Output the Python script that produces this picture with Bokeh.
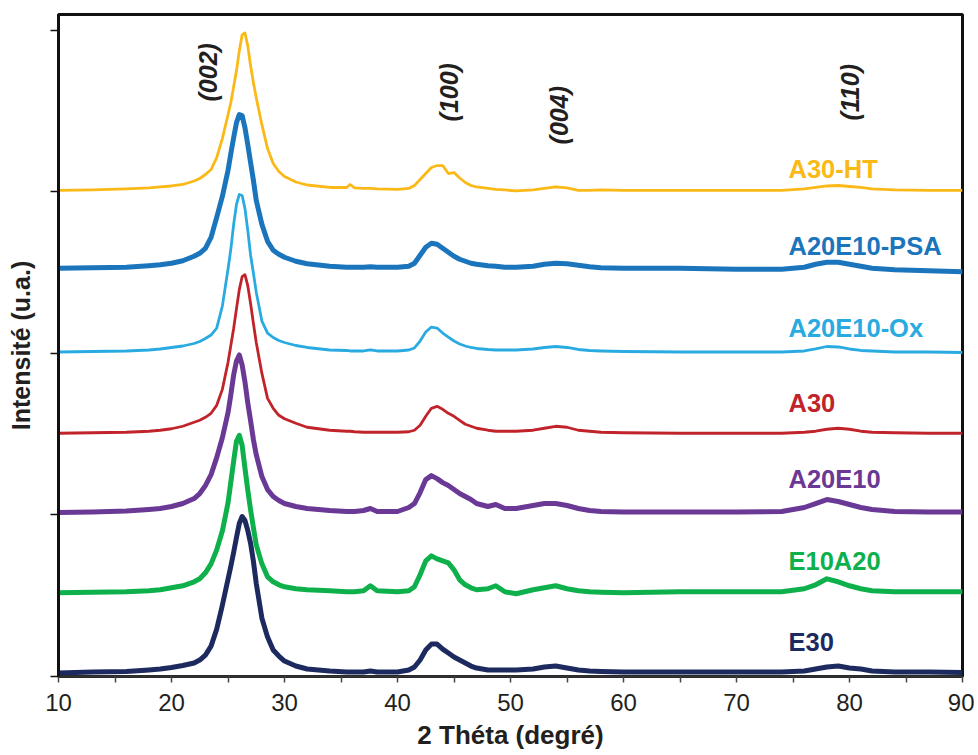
import numpy as np
from bokeh.plotting import figure
from bokeh.models import Range1d, FixedTicker, ColumnDataSource, CustomJSTickFormatter
from bokeh.core.properties import value
from bokeh.embed import file_html
from bokeh.resources import INLINE

# ---------------- data ----------------
# 2-theta grid (degrees)
two_theta = [10, 13, 16, 18, 19, 20, 21, 22, 22.5, 23, 23.5, 24, 24.5, 25, 25.25, 25.5, 25.75, 26,
             26.25, 26.5, 26.75, 27, 27.25, 27.5, 28, 28.5, 29, 29.5, 30, 31, 32,
             34, 35.5, 35.8, 36.2, 37, 37.6, 38.2, 40,
             41, 41.5, 42, 42.5, 43, 43.5, 44, 44.5, 45, 45.5, 46, 46.5, 47, 48, 48.7, 49.5, 50.5,
             52, 53, 54, 55, 56, 57, 58, 60, 65, 70,
             74, 76, 77, 78, 79, 80, 81, 82, 84, 87, 90]

series_names = ["E30", "E10A20", "A20E10", "A30", "A20E10-Ox", "A20E10-PSA", "A30-HT"]
series_colors = ["#1c2a5f", "#0db04b", "#6a3895", "#c1232b", "#29abe2", "#1b75bc", "#fbb917"]
series_widths = [5, 5, 5, 2.8, 2.8, 5, 2.8]
# vertical stacking offsets (u.a.)
stack_offsets = [3.5, 84, 164.5, 244, 325.5, 409.5, 487.5]

e30 = [0, 1, 1.5, 3, 4, 5.5, 7.5, 10, 13, 18, 27, 44, 68, 94, 107, 121, 136, 150, 157, 153, 143, 130, 112, 90, 55, 36, 23, 17, 12, 7, 4,
       2, 1, 1, 1, 1, 2, 1, 1,
       3, 6, 13, 23, 29, 29, 24, 20, 16, 13, 10, 7, 5, 3, 3, 3, 3,
       4, 6, 7, 5, 3, 2, 1.5, 1, 1, 1,
       1, 2, 4, 6, 7, 5, 4, 2, 1, 1, 0.5]
e10a20 = [0, 0.5, 1, 2, 3, 5, 7, 11, 14, 20, 29, 43, 62, 90, 111, 132, 152, 158, 148, 125, 103, 83, 65, 48, 29, 16, 11, 8, 6, 4, 3,
          2, 1, 1, 1, 2, 7, 2, 1,
          2, 6, 18, 32, 37, 34, 32, 30, 23, 13, 8, 5, 3, 4, 7, 1, -1,
          3, 5, 7, 4, 2, 1, 0.5, 0, 1, 1,
          1, 4, 8, 14, 11, 7, 4, 2, 1, 1, 1]
a20e10 = [0, 0.5, 1.5, 3, 4, 6, 9, 14, 19, 27, 38, 55, 75, 100, 118, 138, 152, 158, 148, 131, 110, 92, 73, 58, 36, 23, 16, 12, 9, 6, 4,
          2, 1, 1, 1, 2, 4, 1, 1,
          5, 9, 20, 33, 37, 34, 30, 27, 23, 19, 16, 13, 9, 6, 8, 4, 4,
          7, 9, 9, 7, 4, 2, 1, 0.5, 0.5, 0.5,
          1, 5, 9, 13, 11, 8, 5, 3, 1, 0.5, 0.5]
a30 = [0, 0.5, 1, 2, 3, 4.5, 7, 11, 13, 16, 20, 28, 44, 71, 88, 105, 125, 144, 157, 159, 148, 130, 110, 91, 60, 35, 25, 18, 14.5, 10, 6,
       3, 2, 2, 1.5, 1, 1, 1, 1,
       1.5, 3, 8, 17, 25, 27, 24, 20, 17, 13, 9, 7, 5, 3, 2, 2, 2,
       3, 5, 7, 6, 3, 2, 1, 0.5, 0, 0,
       0, 1, 2, 4, 5, 4, 2, 1, 0.5, 0, 0]
a20e10_ox = [0, 0.5, 1, 2, 3, 4.5, 6, 8.5, 10.5, 13.5, 17, 24, 46, 83, 103, 128, 148, 158, 157, 144, 122, 97, 79, 60, 31, 19, 14.5, 11.5, 9.5, 6.5, 4.5,
             2, 1.5, 1, 1, 1, 2, 1, 1,
             2, 4, 11, 20, 25, 24, 19, 15, 11, 8, 6, 4.5, 3.5, 2.5, 2, 2, 2,
             3, 4.5, 5.5, 4.5, 2.5, 1.5, 1, 0.5, 0, 0,
             0, 1, 3, 5.5, 5, 3, 1.5, 1, 0, 0, -0.5]
a20e10_psa = [0, 0.5, 1, 2.5, 3.5, 5, 7.5, 12, 15, 20, 31, 51, 72, 98, 115, 131, 146, 154, 153, 141, 124, 106, 88, 68, 44, 27, 18, 14, 11, 7, 4.5,
              2, 1, 1, 1, 1, 1.5, 1, 1,
              2, 5, 13, 21, 25, 24, 20, 16, 12, 9, 7, 5, 4, 2.5, 2, 1, 1,
              2, 4, 5, 4.5, 3, 1.5, 0.5, 0, 0, -1,
              -1, 1, 4, 6, 6, 4, 2, 0, -1.5, -2.5, -3.5]
a30_ht = [0, 0.5, 1.5, 2.5, 3.5, 4.5, 6, 9.5, 12, 16, 21, 33, 52, 76, 88, 104, 120, 140, 156, 158, 145, 125, 108, 93, 66, 42, 27, 19, 14, 8.5, 5.5,
          3, 3, 6, 2.5, 2, 2, 1.5, 1,
          2, 5, 11, 17, 23, 25, 25, 17, 18, 12.5, 8, 5, 3.5, 2, 1, 0.5, -0.5,
          0.5, 2, 3.5, 2.5, 0, 0, 0.5, 0, 0, 0,
          0, 1.5, 3, 4.5, 5, 4, 3, 1.5, 0.5, 0, 0]
series_values = [e30, e10a20, a20e10, a30, a20e10_ox, a20e10_psa, a30_ht]

# series labels
label_x = [74.6, 74.6, 74.6, 74.6, 74.6, 74.6, 74.6]
label_y = [35, 116, 198, 274, 350, 432, 509]

# Miller indices
hkl_text = ["(002)", "(100)", "(004)", "(110)"]
hkl_x = [23.2, 44.6, 54.25, 80.0]
hkl_y = [606, 586, 563, 586]

x_ticks = [10, 20, 30, 40, 50, 60, 70, 80, 90]
x_minor_ticks = [15, 25, 35, 45, 55, 65, 75, 85]
y_ticks = [0, 162, 324, 486, 648]

# ---------------- figure ----------------
FONT = "Liberation Sans"
p = figure(width=974, height=752, x_range=Range1d(10, 90), y_range=Range1d(0, 664),
           output_backend="svg", toolbar_location=None,
           min_border_left=58, min_border_right=12, min_border_top=14, min_border_bottom=74)
p.xgrid.visible = False
p.ygrid.visible = False
p.outline_line_color = "#111111"
p.outline_line_width = 3
p.outline_line_alpha = 1.0
p.background_fill_color = "white"
p.border_fill_color = "white"

xa = p.xaxis[0]
xa.ticker = FixedTicker(ticks=x_ticks, minor_ticks=x_minor_ticks)
xa.axis_line_color = "#333333"
xa.axis_line_width = 2.5
xa.major_tick_line_color = "#444444"
xa.minor_tick_line_color = "#444444"
xa.major_tick_line_width = 1.5
xa.minor_tick_line_width = 1.5
xa.major_tick_in = 0
xa.major_tick_out = 6
xa.minor_tick_in = 0
xa.minor_tick_out = 6
xa.major_label_text_font = FONT
xa.major_label_text_font_size = "24px"
xa.major_label_text_color = "#231f20"
xa.major_label_standoff = 11
xa.axis_label = "2 Théta (degré)"
xa.axis_label_text_font = FONT
xa.axis_label_text_font_size = "26px"
xa.axis_label_text_font_style = "bold"
xa.axis_label_text_color = "#231f20"
xa.axis_label_standoff = 6

ya = p.yaxis[0]
ya.ticker = FixedTicker(ticks=y_ticks)
ya.formatter = CustomJSTickFormatter(code="return ''")
ya.major_label_text_font_size = "1px"
ya.major_label_standoff = 0
ya.axis_line_color = "#111111"
ya.axis_line_width = 3
ya.major_tick_line_color = "#111111"
ya.major_tick_line_width = 1.5
ya.major_tick_in = 0
ya.major_tick_out = 8
ya.minor_tick_line_color = None
ya.axis_label = "Intensité (u.a.)"
ya.axis_label_text_font = FONT
ya.axis_label_text_font_size = "25px"
ya.axis_label_text_font_style = "bold"
ya.axis_label_text_color = "#231f20"
ya.axis_label_standoff = 16

for name, vals, off, col, lw in zip(series_names, series_values, stack_offsets, series_colors, series_widths):
    yv = [off + v for v in vals]
    p.line(two_theta, yv, line_color=col, line_width=lw, line_join="round")

lab_src = ColumnDataSource(dict(x=label_x, y=label_y, text=series_names, color=series_colors))
p.text(x="x", y="y", text="text", source=lab_src, text_color="color",
       text_font=value(FONT), text_font_size="25.5px", text_font_style="bold",
       text_align="left", text_baseline="middle")

hkl_src = ColumnDataSource(dict(x=hkl_x, y=hkl_y, text=hkl_text))
p.text(x="x", y="y", text="text", source=hkl_src, angle=np.pi / 2,
       text_color="#231f20", text_font=value(FONT), text_font_size="25px",
       text_font_style="bold italic", text_align="center", text_baseline="middle")

open("out.html", "w").write(file_html(p, INLINE))
